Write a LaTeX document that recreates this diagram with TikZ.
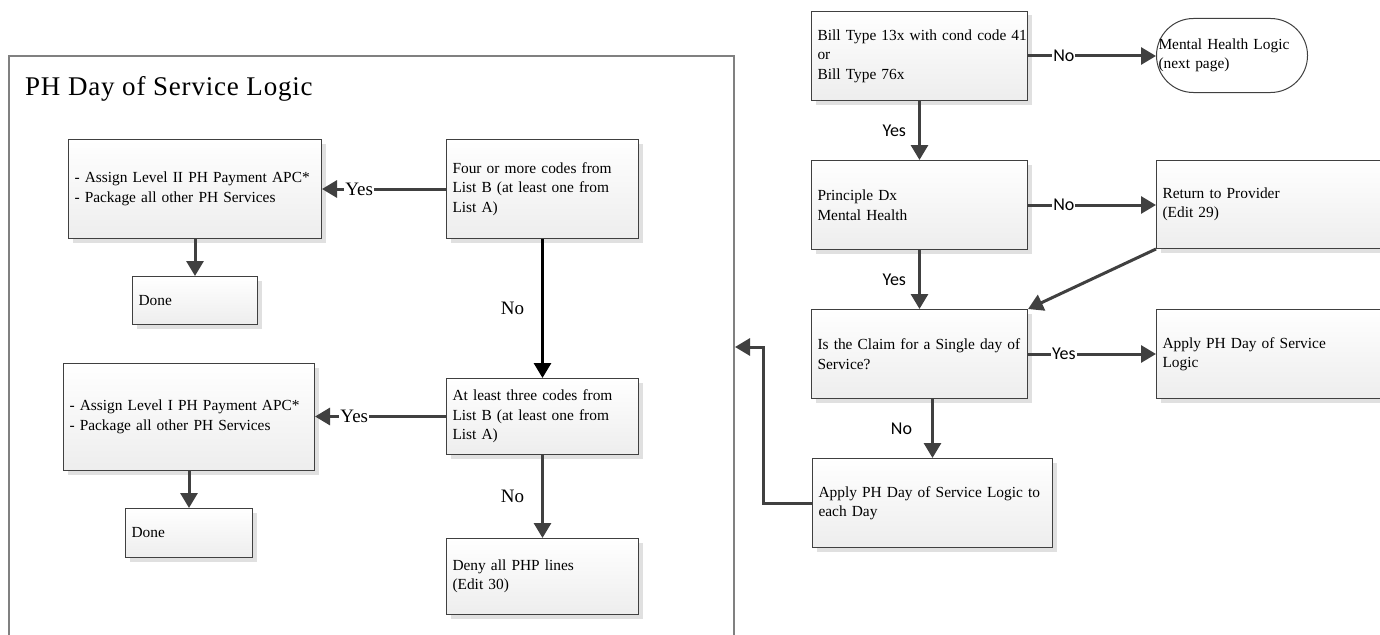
\documentclass[tikz,border=0pt]{standalone}
\usepackage{fontspec}
\setmainfont{Liberation Serif}
\newfontfamily\lblfont{Carlito}
\newfontfamily\titlefont[LetterSpace=3]{Liberation Serif}
\usetikzlibrary{arrows.meta,shadows,calc}
\definecolor{lineclr}{HTML}{404040}
\definecolor{frameclr}{HTML}{808080}
\newcommand\oneline[1]{\mbox{#1}}
\tikzset{
  box/.style={draw=lineclr, line width=1pt, top color=white, bottom color=black!7,
    align=left, inner xsep=6pt, inner ysep=0pt, anchor=north west,
    font=\fontsize{15.4pt}{19.5pt}\selectfont,
    drop shadow={shadow xshift=4pt, shadow yshift=-4pt, fill=black!12, opacity=1}},
  term/.style={draw=lineclr, line width=1pt, fill=white, rounded corners=36.9pt,
    align=left, inner xsep=2pt, inner ysep=0pt, anchor=north west,
    font=\fontsize{15.4pt}{19.5pt}\selectfont},
  conn/.style={draw=lineclr, line width=3pt, -{Triangle[length=15pt,width=17pt]}},
  connb/.style={draw=black, line width=3pt, -{Triangle[length=15pt,width=17pt]}},
  slbl/.style={font=\lblfont\fontsize{18pt}{20pt}\selectfont, text=black, inner sep=0pt},
  rlbl/.style={font=\fontsize{19pt}{21pt}\selectfont, text=black, inner sep=0pt},
}
\begin{document}
\begin{tikzpicture}[x=1pt,y=-1pt]
\useasboundingbox (0,0) rectangle (1380,634);
\clip (0,0) rectangle (1380,634);
% frame
\draw[frameclr, line width=1.6pt] (9,660) -- (9,56) -- (734,56) -- (734,660);
\node[anchor=base west, inner sep=0pt, font=\titlefont\fontsize{27pt}{30pt}\selectfont] (title) at (25,95) {PH Day of Service Logic};
% right column
\node[box, minimum width=216pt, minimum height=89pt, text width=204pt] (b1) at (811,11) {\oneline{Bill Type 13x with cond code 41}\\or\\\oneline{Bill Type 76x}};
\node[term, minimum width=151pt, minimum height=74pt, text width=147pt] (mh) at (1156,18) {\oneline{Mental Health Logic}\\(next page)};
\node[box, minimum width=216pt, minimum height=89pt, text width=204pt] (b2) at (811,160) {Principle Dx\\Mental Health};
\node[box, minimum width=240pt, minimum height=88pt, text width=228pt] (rtp) at (1156,160) {Return to Provider\\(Edit 29)};
\node[box, minimum width=216pt, minimum height=89pt, text width=204pt] (b3) at (811,309) {\oneline{Is the Claim for a Single day of}\\Service?};
\node[box, minimum width=240pt, minimum height=89pt, text width=228pt] (ap) at (1156,309) {\oneline{Apply PH Day of Service}\\Logic};
\node[box, minimum width=240pt, minimum height=89pt, text width=228pt] (b4) at (812,458) {\oneline{Apply PH Day of Service Logic to}\\each Day};
% left side
\node[box, minimum width=253pt, minimum height=99pt, text width=241pt] (l2) at (68,139) {\oneline{- Assign Level II PH Payment APC*}\\\oneline{- Package all other PH Services}};
\node[box, minimum width=125pt, minimum height=48pt, text width=113pt] (d1) at (132,276) {Done};
\node[box, minimum width=192pt, minimum height=99pt, text width=180pt] (f) at (446,139) {\oneline{Four or more codes from}\\\oneline{List B (at least one from}\\List A)};
\node[box, minimum width=192pt, minimum height=76pt, text width=180pt] (t) at (446,378) {\oneline{At least three codes from}\\\oneline{List B (at least one from}\\List A)};
\node[box, minimum width=251pt, minimum height=107pt, text width=239pt] (l1) at (63,363) {\oneline{- Assign Level I PH Payment APC*}\\\oneline{- Package all other PH Services}};
\node[box, minimum width=127pt, minimum height=49pt, text width=115pt] (d2) at (125,508) {Done};
\node[box, minimum width=192pt, minimum height=76pt, text width=180pt] (deny) at (446,538) {Deny all PHP lines\\(Edit 30)};
% right connectors
\draw[conn] (b1.east) -- (b1.east -| mh.west) node[pos=0.28, slbl, fill=white, inner xsep=1pt] {No};
\draw[conn] (b1.south) -- (b2.north) node[midway, slbl, left=12pt] {Yes};
\draw[conn] (b2.east) -- (b2.east -| rtp.west) node[pos=0.28, slbl, fill=white, inner xsep=1pt] {No};
\draw[conn] (b2.south) -- (b3.north) node[midway, slbl, left=12pt] {Yes};
\draw[conn] (rtp.south west) -- (b3.north east);
\draw[conn] (b3.east) -- (b3.east -| ap.west) node[pos=0.28, slbl, fill=white, inner xsep=1pt] {Yes};
\draw[conn] (b4.north |- b3.south) -- (b4.north) node[midway, slbl, left=19pt] {No};
\coordinate (fr) at (735,347);
\draw[conn] (b4.west) -- ++(-49,0) |- (fr);
% left connectors
\draw[conn] (f.west) -- (f.west -| l2.east) node[pos=0.70, rlbl, fill=white, inner xsep=1pt] {Yes};
\draw[conn] (l2.south -| d1.north) -- (d1.north);
\draw[connb] (f.south) -- (t.north) node[midway, rlbl, left=17pt] {No};
\draw[conn] (t.west) -- (t.west -| l1.east) node[pos=0.70, rlbl, fill=white, inner xsep=1pt] {Yes};
\draw[conn] (l1.south -| d2.north) -- (d2.north);
\draw[conn] (t.south) -- (deny.north) node[midway, rlbl, left=17pt] {No};
\end{tikzpicture}
\end{document}
